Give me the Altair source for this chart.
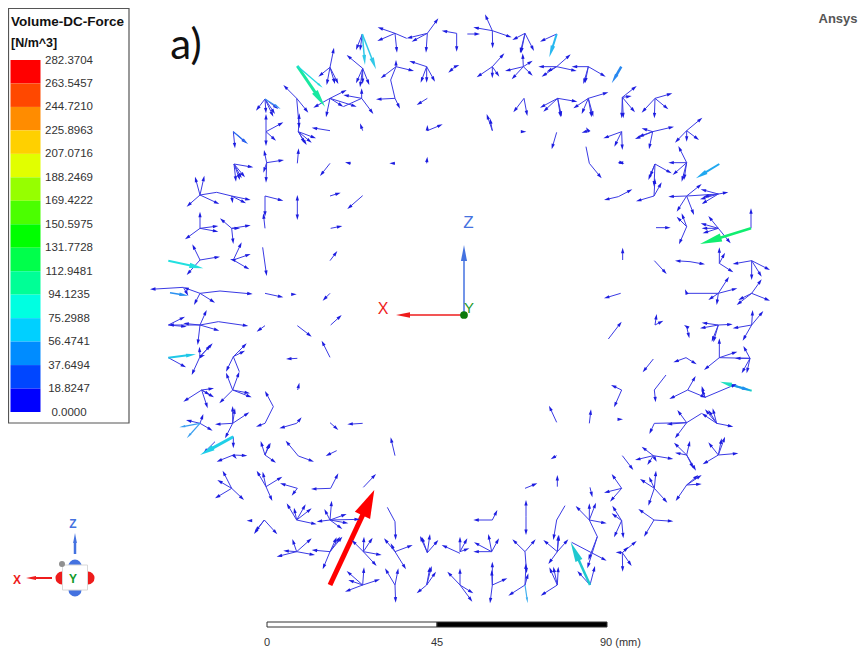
import math
import altair as alt
import pandas as pd

# Legend values
LEGEND_LABELS = ["282.3704","263.5457","244.7210","225.8963","207.0716","188.2469","169.4222","150.5975",
                 "131.7728","112.9481","94.1235","75.2988","56.4741","37.6494","18.8247","0.0000"]
LEGEND_COLORS = ["#ff0000","#ff4800","#ff8c00","#ffd000","#e1ff00","#96ff00","#4bff00","#00ff00",
                 "#00ff4b","#00ff96","#00ffe1","#00d0ff","#008cff","#0046ff","#0000ff"]

# Vector field: each entry is (hub x, hub y, [arrow tips]); a tip ending in 0 has no arrowhead.
NW = [
 (765,70,[(713,52),(712,93),(771,128),(800,85,0)]),(862,70,[(895,25),(800,85),(815,95),(858,128)]),
 (667,72,[(648,120),(660,122)]),(768,170,[(722,205),(822,183),(768,150),(752,210,0)]),
 (765,265,[(708,268),(780,296),(752,210,0)]),(860,170,[(808,153),(842,218),(860,218),(885,215)]),
 (668,175,[(620,135),(648,220),(668,222),(688,225),(660,232)]),(570,172,[(582,113),(535,200),(560,225),(585,222),(595,222)]),
 (665,265,[(610,255),(700,312),(665,235),(610,290,0)]),(570,265,[(620,240),(520,293),(558,322),(610,290),(650,290)]),
 (470,265,[(430,225),(478,355),(505,308)]),(375,267,[(348,302),(400,320),(415,297),(405,312),(378,310)]),
 (378,365,[(430,337),(408,392),(378,312),(378,408)]),(475,365,[(528,385),(500,405),(515,398),(478,310),(495,400)]),
 (570,362,[(515,353)]),(280,365,[(285,415),(320,400)]),(282,462,[(340,472),(288,515),(315,502),(300,510),(305,505)]),
 (380,458,[(432,450),(372,420),(378,518),(370,488)]),(472,460,[(476,415)]),(570,460,[(540,498)]),
 (632,460,[(615,457)]),(765,460,[(748,460)]),(860,460,[(862,440)]),
 (180,555,[(165,500),(193,497),(140,590),(238,582),(230,547,0)]),(230,547,[(275,558,0)]),(275,558,[(332,570),(278,580),(318,580)]),
 (375,558,[(430,572),(375,620)]),(472,600,[(472,555),(472,630)]),(570,558,[(602,548)]),(668,557,[(622,597)]),
 (180,655,[(180,605),(135,688),(235,648),(235,665)]),(275,655,[(240,625),(280,702),(332,646),(300,655)]),
 (375,655,[(370,610)]),(572,655,[(607,648)]),(180,750,[(157,703),(240,740),(140,795)]),
 (280,750,[(305,697),(332,732),(328,778),(270,748)]),(368,712,[(380,798)]),(570,752,[(592,723)]),
 (180,850,[(130,832),(225,878),(162,885),(240,843,0)]),(240,843,[(338,852)]),(130,832,[(30,838),(145,857)]),
 (375,850,[(430,862)]),(467,853,[(470,853)]),(570,850,[(548,872)]),(862,362,[(908,343),(862,345)]),
 (668,362,[(660,340)]),(862,265,[(830,285)]),(950,70,[(905,62),(950,125)]),(945,170,[(925,188),(958,165)]),
]
NE = [
 (97,62,[(75,13),(40,52),(155,82),(98,115)]),(22,72,[(60,72)]),(195,70,[(157,90),(222,123),(180,130),(183,130)]),
 (290,72,[(240,95)]),(97,170,[(133,130),(50,202),(97,205),(118,200)]),(190,170,[(135,183),(218,197),(155,208),(188,130),(218,152)]),
 (290,170,[(332,133),(235,170),(245,200),(350,183),(260,185)]),(385,170,[(335,170),(437,200),(370,222),(375,220)]),
 (487,262,[(530,228),(525,307),(485,325),(515,258),(490,325)]),(585,265,[(637,250),(545,308),(625,298),(583,325)]),
 (293,265,[(240,293),(352,275),(250,305),(302,322),(305,320)]),(385,265,[(445,247),(340,295),(365,312),(395,322),(400,320)]),
 (192,265,[(160,307),(202,318)]),(97,362,[(80,312),(90,325)]),(197,365,[(199,365)]),(290,367,[(275,418)]),
 (385,362,[(365,368),(378,352)]),(485,365,[(430,385),(463,410),(487,420)]),(578,365,[(642,350),(525,387),(567,418),(545,355),(535,380)]),
 (680,362,[(727,323),(645,398),(717,390),(680,395)]),(388,460,[(378,410,0),(425,505)]),(482,458,[(473,457),(493,462)]),
 (680,458,[(655,408),(625,458),(638,495),(665,515),(672,510)]),(585,462,[(635,490),(565,510),(582,530),(570,500)]),
 (475,560,[(517,538),(432,570)]),(582,558,[(605,517),(528,574),(585,505)]),(680,558,[(725,522),(625,560),(650,605),(702,615),(775,552,0)]),
 (775,552,[(722,538),(805,547),(720,568),(725,582),(730,560)]),(680,650,[(650,620),(665,610),(657,703)]),(588,653,[(632,653)]),
 (775,655,[(745,618),(722,640),(725,655),(728,670),(812,700)]),(873,655,[(873,595)]),(488,750,[(488,713)]),
 (583,752,[(620,792)]),(690,755,[(645,752),(735,763)]),(778,760,[(778,712),(820,787),(795,728)]),
 (875,752,[(818,762),(930,780),(875,810),(905,800)]),(482,850,[(432,865)]),(775,850,[(807,800),(832,835),(745,870),(770,885),(680,850,0)]),
 (680,850,[(675,838)]),(875,850,[(905,808),(930,872),(830,885),(835,870)]),
]
SW = [
 (180,45,[(85,45),(200,0),(173,105),(238,62),(235,35,0),(130,40)]),(85,45,[(135,20),(140,50)]),(235,35,[(325,48)]),
 (375,47,[(350,65)]),(472,47,[(515,80)]),(572,45,[(605,15)]),(570,142,[(545,92)]),(472,145,[(438,147)]),
 (180,140,[(155,195),(218,100),(195,135),(212,105),(178,110)]),(85,143,[(138,172)]),
 (280,140,[(320,100),(315,122),(258,185),(298,185,0)]),(278,240,[(258,188),(298,185),(238,280),(335,262),(330,250)]),
 (185,240,[(222,235),(130,275),(222,262),(203,295),(210,255)]),(473,240,[(478,218)]),(400,290,[(375,243),(375,340,0)]),
 (375,340,[(348,350)]),(278,340,[(278,288),(328,307),(225,343),(255,385),(285,295)]),(180,340,[(138,330),(190,312),(218,362)]),
 (470,340,[(485,322),(418,355)]),(570,338,[(595,360)]),(668,340,[(622,343)]),(280,380,[(280,415)]),(225,395,[(190,430)]),
 (475,438,[(437,392),(522,455)]),(765,437,[(752,382)]),(590,422,[(557,438)]),(280,435,[(322,437),(230,455),(290,447)]),
 (375,435,[(362,393),(392,398),(408,458),(388,400)]),(572,535,[(595,490),(513,537)]),(670,532,[(708,492)]),
 (275,535,[(248,482),(312,570),(225,565),(232,510)]),(378,530,[(350,482),(368,485),(427,500),(397,573)]),
 (472,535,[(420,520),(455,557)]),(470,630,[(440,580),(462,593),(497,583),(515,595),(530,643)]),
 (570,630,[(575,572),(553,597),(607,657),(620,612),(660,628),(530,635),(625,640)]),(765,635,[(742,592,0),(767,690)]),
 (330,632,[(320,632)]),(373,630,[(342,672),(412,673),(345,665)]),(470,725,[(457,687),(515,685),(410,740),(525,735),(430,722)]),
 (570,725,[(515,720),(548,778),(607,680),(590,682),(600,680)]),(670,725,[(672,680),(698,683),(635,690),(710,768),(725,735)]),
 (765,725,[(732,685),(818,705),(798,778),(752,700)]),(862,728,[(840,678),(870,672),(895,690),(845,680)]),
 (668,825,[(620,783),(615,845),(672,772),(720,808),(625,810)]),(765,825,[(735,775),(775,775),(767,878)]),
 (860,825,[(830,850),(875,768),(888,785),(870,770)]),(960,730,[(905,705)]),(960,825,[(922,785)]),
]
SE = [
 (445,87,[(485,35)]),(585,45,[(590,12),(610,32)]),(680,50,[(672,45),(688,85)]),(775,45,[(725,38),(818,43),(720,55),(760,97),(755,95)]),
 (875,45,[(910,3),(818,55),(848,92),(878,0)]),(778,143,[(778,85),(832,125),(732,180),(870,145,0)]),(870,145,[(850,108),(845,190),(860,190),(825,145)]),
 (678,143,[(640,157),(710,163)]),(580,147,[(548,187)]),(583,240,[(618,195,0),(587,277)]),(683,240,[(707,198),(628,267),(738,263)]),
 (735,262,[(725,228),(830,222),(725,238)]),(485,240,[(453,225),(462,292)]),(290,337,[(267,287)]),(388,340,[(393,298)]),
 (487,328,[(489,328)]),(680,338,[(652,300),(725,310,0),(645,385),(620,343),(583,340,0)]),(583,340,[(568,372)]),
 (770,340,[(725,310),(820,350),(735,298),(758,295),(745,300)]),(775,435,[(745,397),(795,380),(835,430),(728,463),(785,385)]),
 (680,435,[(642,398),(690,392),(645,428),(708,482),(700,475)]),(580,437,[(545,410),(525,450),(640,447),(562,465),(590,455)]),
 (487,437,[(520,480)]),(290,437,[(272,448)]),(292,530,[(292,495)]),(195,535,[(232,520)]),(390,532,[(397,562)]),
 (485,535,[(455,492),(432,548),(450,575)]),(583,535,[(540,507),(588,482),(565,587),(622,578),(567,500)]),
 (680,525,[(725,495),(647,573),(725,522),(715,495)]),(198,620,[(198,570),(198,675)]),(290,630,[(315,587,0),(280,690)]),
 (388,630,[(347,588),(388,580),(408,578),(440,640),(412,680,0)]),(412,680,[(382,775),(385,750)]),
 (485,632,[(457,587),(455,610),(462,682),(490,685)]),(582,630,[(535,597),(552,680),(640,634)]),(97,630,[(112,600),(40,630)]),
 (95,725,[(85,672),(117,685),(40,725),(42,697)]),(195,725,[(157,688),(227,688),(200,790)]),
 (292,725,[(250,690),(325,688),(265,762),(297,675),(295,675)]),(390,825,[(352,783),(405,768)]),(335,697,[(440,752)]),
 (487,728,[(530,693),(515,768),(488,785),(467,727),(505,710)]),(0,725,[(28,715),(0,680),(22,685)]),(0,825,[(40,850),(37,875),(0,775)]),
 (97,825,[(142,805),(90,880),(97,755),(95,780)]),(195,825,[(145,857),(198,760),(205,790)]),(292,825,[(242,857),(268,772),(280,770),(295,770)]),
]
ORIGINS = {"NW": (140, 10, NW), "NE": (460, 10, NE), "SW": (140, 310, SW), "SE": (460, 310, SE)}

# Stronger vectors: x1, y1, x2, y2, colour, line width, head length
STRONG = [
 (297.3,66,325,106.7,"#18e8a0",3,18),(297.3,66,322.7,87.7,"#22d8e0",1.3,6),
 (362.3,34,365,65,"#30c8e8",1.5,10),(362.3,34,376,69.3,"#30c8e8",1.5,12),
 (168.3,260.7,203.3,268.3,"#22e0e0",2,14),(170,292.7,188.3,295.7,"#2a90f0",1.5,9),
 (265,99,280.7,109,"#3a90f0",1.2,7),(233.3,131.7,248.3,144.3,"#2a70f0",1.2,7),
 (556.7,34,549.3,57.3,"#28b8f0",2,12),(621.3,66.7,611.7,83.3,"#2888f0",2.5,10),
 (719.3,164,696,178.3,"#20a8f0",2,12),(751,228.3,700,244,"#10ee70",2.5,22),
 (168.3,357.7,196,354.3,"#20c8e8",2,10),(200,423.3,179.3,427.3,"#3aa0f0",1.2,6),
 (200,423.3,186.7,438.3,"#3aa0f0",1.2,6),(233.3,436.7,200,455,"#20d0e8",3,15),
 (590,585,570.7,542.3,"#20c8d0",2.5,20),(525,585,527.7,603.3,"#40b0f0",1.2,6),
 (751.7,390.7,720,381.7,"#20e0c0",2,12),(731.7,385,751.7,390.7,"#2090f0",2,10),
]
MAX_ARROW = (330,585,374.3,490,"#ff0000",5,28)
TRIAD_LARGE = [(463,315,396,315,"#ee1c1c",1.5,14),(464,315,464,245,"#4472e0",1.5,16),
               (52,578,26,578,"#ee1c1c",2,10),(75,554,75,533,"#4472e0",2.5,10)]

THIN_COLOR = "#3a3ae4"
THIN_HEAD = "#1c1ce0"
W, H = 850, 644
xs = alt.Scale(domain=[8, 858], range=[0, W], nice=False, zero=False)
ys = alt.Scale(domain=[652, 8], nice=False, zero=False)
X = lambda f="x": alt.X(f"{f}:Q", scale=xs, axis=None)
Y = lambda f="y": alt.Y(f"{f}:Q", scale=ys, axis=None)

lines, heads_slim, heads_wide = [], [], []

def arrow(x1, y1, x2, y2, color, width, head, bucket, head_color=None):
    d = math.hypot(x2 - x1, y2 - y1) or 1
    ux, uy = (x2 - x1) / d, (y2 - y1) / d
    back = min(head * 0.85, d) if head else 0
    lines.append(dict(x=x1, y=y1, x2=x2 - ux * back, y2=y2 - uy * back, c=color, w=width))
    if head:
        bucket.append(dict(x=x2, y=y2, c=head_color or color, s=head ** 2, a=math.degrees(math.atan2(ux, -uy)) % 360))

for ox, oy, hubs in ORIGINS.values():
    for hx, hy, tips in hubs:
        for t in tips:
            head = 0 if len(t) == 3 else 5.5
            arrow(ox + hx / 3, oy + hy / 3, ox + t[0] / 3, oy + t[1] / 3, THIN_COLOR, 1, head, heads_wide, THIN_HEAD)
for a in STRONG:
    arrow(*a, heads_slim)
arrow(*MAX_ARROW, heads_wide)
for a in TRIAD_LARGE:
    arrow(*a, heads_slim)

def head_layer(rows, path):
    return alt.Chart(pd.DataFrame(rows)).mark_point(shape=path, filled=True, opacity=1, strokeWidth=0).encode(
        x=X(), y=Y(), color=alt.Color("c:N", scale=None), size=alt.Size("s:Q", scale=None),
        angle=alt.Angle("a:Q", scale=None))

def rects(rows, **kw):
    return alt.Chart(pd.DataFrame(rows)).mark_rect(**kw).encode(
        x=X(), x2="x2:Q", y=Y(), y2="y2:Q", color=alt.Color("c:N", scale=None))

def texts(rows, **kw):
    return alt.Chart(pd.DataFrame(rows)).mark_text(**kw).encode(
        x=X(), y=Y(), text="t:N", color=alt.Color("c:N", scale=None), size=alt.Size("s:Q", scale=None))

# legend (the page margin keeps the frame's corner from reaching further up and left)
frame = rects([dict(x=8.5, x2=129, y=8.5, y2=423, c="#ffffff")], stroke="#555555", strokeWidth=1.2)
band_h = (412 - 60) / 15
bands = rects([dict(x=10.5, x2=40.5, y=60 + i * band_h, y2=60 + (i + 1) * band_h, c=c) for i, c in enumerate(LEGEND_COLORS)])
legend_text = texts([dict(x=69, y=60.5 + i * band_h, t=t, c="#333333", s=11.5) for i, t in enumerate(LEGEND_LABELS)],
                    font="Liberation Sans", align="center", baseline="middle")
legend_title = texts([dict(x=11, y=22, t="Volume-DC-Force", c="#111111", s=13.5), dict(x=11, y=43, t="[N/m^3]", c="#111111", s=12.5)],
                     font="Liberation Sans", fontWeight="bold", align="left", baseline="middle")

# scale bar
bar = rects([dict(x=267, x2=437, y=622, y2=627, c="#ffffff"), dict(x=437, x2=607, y=622, y2=627, c="#000000")],
            stroke="#333333", strokeWidth=1)
bar_text = texts([dict(x=267, y=643, t="0", c="#333333", s=11), dict(x=437, y=643, t="45", c="#333333", s=11)],
                 font="Liberation Sans", align="center", baseline="middle")
bar_text2 = texts([dict(x=600, y=643, t="90 (mm)", c="#333333", s=11)], font="Liberation Sans", align="left", baseline="middle")

# orientation cube
lobes = alt.Chart(pd.DataFrame([dict(x=75, y=566, c="#4472e0"), dict(x=75, y=590, c="#4472e0"),
                                dict(x=62, y=578, c="#ee1c1c"), dict(x=88, y=578, c="#ee1c1c")])).mark_point(
    shape="circle", filled=True, opacity=1, size=170, strokeWidth=0).encode(x=X(), y=Y(), color=alt.Color("c:N", scale=None))
cube = rects([dict(x=62.5, x2=87.5, y=565, y2=590, c="#ffffff")], stroke="#d8d8d8", strokeWidth=1)
dots = alt.Chart(pd.DataFrame([dict(x=62, y=564, c="#909090", s=36), dict(x=464, y=315, c="#0b7a0b", s=60)])).mark_point(
    shape="circle", filled=True, opacity=1, strokeWidth=0).encode(
    x=X(), y=Y(), color=alt.Color("c:N", scale=None), size=alt.Size("s:Q", scale=None))
axis_text = texts([dict(x=383, y=309, t="X", c="#ee1c1c", s=16), dict(x=468.5, y=223, t="Z", c="#4472e0", s=17),
                   dict(x=469, y=308, t="Y", c="#1f9a2a", s=15)], font="Liberation Sans", align="center", baseline="middle")
cube_text = texts([dict(x=17, y=580, t="X", c="#ee1c1c", s=12), dict(x=73, y=524, t="Z", c="#4472e0", s=12),
                   dict(x=73, y=579, t="Y", c="#119a2a", s=12)], font="Liberation Sans", fontWeight="bold", align="center", baseline="middle")

# panel mark and brand
panel = texts([dict(x=186, y=46, t="a)", c="#111111", s=42)], font="Lato", align="center", baseline="middle")
brand = texts([dict(x=818.5, y=19, t="Ansys", c="#555555", s=13)], font="Liberation Sans", fontWeight="bold", align="left", baseline="middle")

rules = alt.Chart(pd.DataFrame(lines)).mark_rule().encode(
    x=X(), x2="x2:Q", y=Y(), y2="y2:Q", color=alt.Color("c:N", scale=None), strokeWidth=alt.StrokeWidth("w:Q", scale=None))

chart = alt.layer(
    frame, bands, legend_text, legend_title, bar, bar_text, bar_text2, lobes, cube, cube_text,
    rules,
    head_layer(heads_wide, "M0,0 L0.6,2 L-0.6,2 Z"),
    head_layer(heads_slim, "M0,0 L0.38,2 L-0.38,2 Z"),
    dots, axis_text, panel, brand,
).properties(
    width=W, height=H, padding=0, autosize=alt.AutoSizeParams(type="none"), background="#ffffff"
).configure_view(stroke=None)

chart.save("out.html", embed_options={"renderer": "svg", "actions": False})
